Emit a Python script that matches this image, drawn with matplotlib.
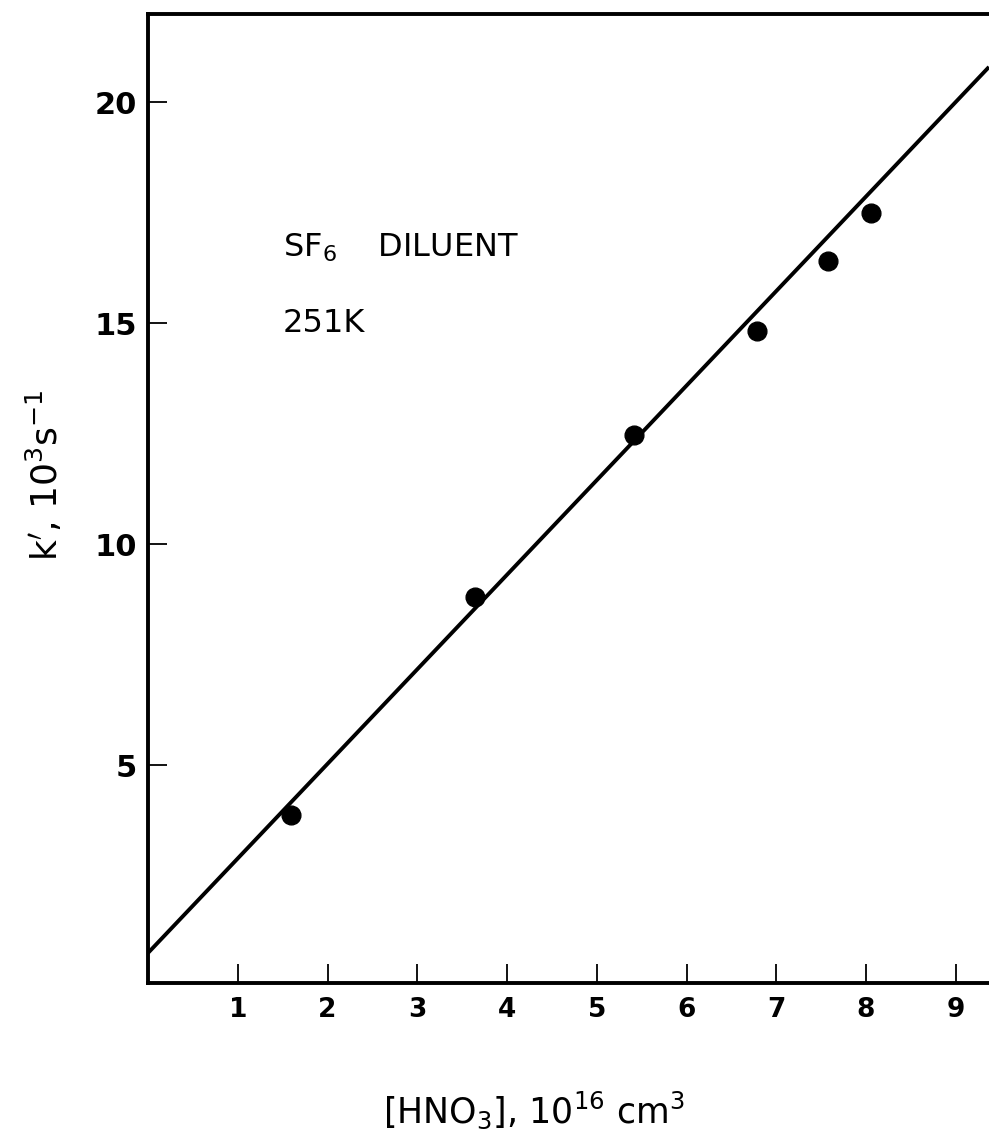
import numpy as np
import matplotlib.pyplot as plt

# dados
hno3 = [1.59, 3.64, 5.41, 6.78, 7.58, 8.05]      # 10^16 cm^-3
k_linha = [3.87, 8.80, 12.47, 14.82, 16.40, 17.49]  # 10^3 s^-1

# reta ajustada (intercepto e inclinacao)
intercepto = 0.75
inclinacao = 2.14

x_ticks = [1, 2, 3, 4, 5, 6, 7, 8, 9]
y_ticks = [5, 10, 15, 20]

fig = plt.figure(figsize=(9.89, 11.47), dpi=100)
ax = fig.add_axes([0.1497, 0.1430, 0.8503, 0.8448])

x_reta = np.array([0, 9.37])
ax.plot(x_reta, intercepto + inclinacao * x_reta, color='k', lw=2.8, solid_capstyle='butt')
ax.plot(hno3, k_linha, 'o', color='k', markersize=13.5)

ax.set_xlim(0, 9.37)
ax.set_ylim(0.07, 22)
ax.set_xticks(x_ticks)
ax.set_yticks(y_ticks)
ax.set_xticklabels([str(t) for t in x_ticks], fontsize=19, fontweight='bold')
ax.set_yticklabels([str(t) for t in y_ticks], fontsize=22, fontweight='bold')
ax.tick_params(axis='both', direction='in', length=14, width=1.3, color='k')
ax.tick_params(axis='x', pad=10)
ax.tick_params(axis='y', pad=8)

for lado in ['left', 'bottom', 'top']:
    ax.spines[lado].set_linewidth(2.8)
ax.spines['right'].set_visible(False)

ax.text(1.5, 16.7, r'SF$_6$    DILUENT', fontsize=23, va='center', ha='left')
ax.text(1.5, 15.0, '251K', fontsize=23, va='center', ha='left')

fig.text(0.54, 0.032, r'$\left[\mathrm{HNO_3}\right]$, 10$^{16}$ cm$^3$',
         fontsize=25, ha='center', va='center')
fig.text(0.045, 0.586, r"k$'$, 10$^3$s$^{-1}$", fontsize=26, rotation=90,
         ha='center', va='center')

fig.savefig('out.png', dpi=100)
